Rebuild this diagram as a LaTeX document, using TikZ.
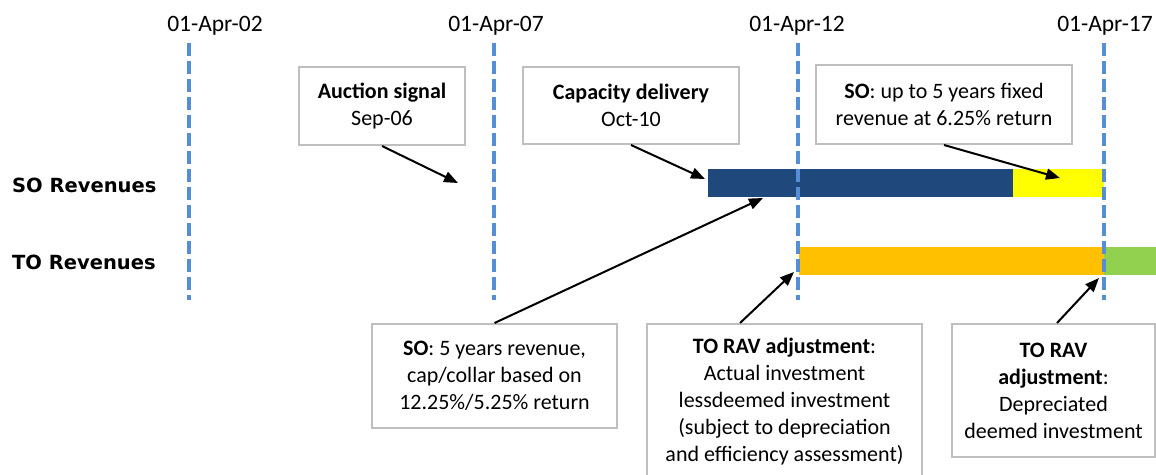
\documentclass[tikz,border=0pt]{standalone}
\usepackage{fontspec}
\setmainfont{Carlito}
\newfontfamily\rowfont{DejaVu Sans}
\usetikzlibrary{arrows.meta}
\definecolor{darkbar}{HTML}{1F497D}
\definecolor{yelbar}{HTML}{FFFF00}
\definecolor{orabar}{HTML}{FFC000}
\definecolor{grebar}{HTML}{92D050}
\definecolor{dashblue}{HTML}{558ED5}
\definecolor{boxgray}{HTML}{BFBFBF}
\tikzset{
  infobox/.style={draw=boxgray, line width=2pt, fill=white, align=center, inner sep=0pt,
    font=\fontsize{22}{27}\selectfont},
  datelbl/.style={font=\fontsize{23.5}{27}\selectfont, inner sep=0pt},
  rowlbl/.style={font=\rowfont\bfseries\fontsize{19.5}{24}\selectfont, inner sep=0pt, anchor=west},
  timeline/.style={draw=dashblue, line width=3.5pt, dash pattern=on 13pt off 5pt},
  callout/.style={draw=black, line width=2pt, -{Triangle[length=14pt,width=11pt]}}
}
\begin{document}
\begin{tikzpicture}[x=1pt,y=-1pt]
\clip (0,0) rectangle (1156,474);
\fill[white] (0,0) rectangle (1156,474);
% bars
\fill[darkbar] (708,169) rectangle (1013,197);
\fill[yelbar] (1013,169) rectangle (1104,197);
\fill[orabar] (799,247) rectangle (1104,275);
\fill[grebar] (1104,247) rectangle (1160,275);
% timelines
\foreach \x/\n in {189/l1,494/l2,798/l3,1104/l4}{
  \coordinate (\n top) at (\x,43);
  \coordinate (\n bot) at (\x,300);
  \draw[timeline] (\n top) -- (\n bot);
}
% date labels
\node[datelbl] (d1) at (215,26) {01-Apr-02};
\node[datelbl] (d2) at (496,26) {01-Apr-07};
\node[datelbl] (d3) at (797,26) {01-Apr-12};
\node[datelbl] (d4) at (1105,26) {01-Apr-17};
% row labels
\node[rowlbl] (so) at (12,185) {SO Revenues};
\node[rowlbl] (to) at (12,262) {TO Revenues};
% boxes
\node[infobox, minimum width=166pt, minimum height=78pt] (auction) at (382,106)
  {\textbf{Auction signal}\\Sep-06};
\node[infobox, minimum width=216pt, minimum height=77pt] (capacity) at (631,105.5)
  {\textbf{Capacity delivery}\\Oct-10};
\node[infobox, minimum width=256pt, minimum height=79pt] (soup) at (944,104.5)
  {\textbf{SO}: up to 5 years fixed\\revenue at 6.25\% return};
\node[infobox, minimum width=245pt, minimum height=104pt] (sofive) at (494.5,376)
  {\textbf{SO}: 5 years revenue,\\cap/collar based on\\12.25\%/5.25\% return};
\node[infobox, minimum width=275pt, minimum height=156pt] (toravA) at (784.5,402)
  {\textbf{TO RAV adjustment}:\\Actual investment\\lessdeemed investment\\(subject to depreciation\\and efficiency assessment)};
\node[infobox, minimum width=203pt, minimum height=133pt] (toravB) at (1053.5,390.5)
  {\textbf{TO RAV}\\\textbf{adjustment}:\\Depreciated\\deemed investment};
% arrow targets
\coordinate (t1) at (458,183);
\coordinate (t2) at (705,179);
\coordinate (t3) at (1060,178);
\coordinate (t4) at (763,198);
\coordinate (t5) at (794,272);
\coordinate (t6) at (1099,278);
% arrows
\draw[callout] (auction.south) -- (t1);
\draw[callout] (capacity.south) -- (t2);
\draw[callout] (soup.south) -- (t3);
\draw[callout] (sofive.north) -- (t4);
\draw[callout] ([xshift=-44.5pt]toravA.north) -- (t5);
\draw[callout] ([xshift=3.5pt]toravB.north) -- (t6);
\end{tikzpicture}
\end{document}
